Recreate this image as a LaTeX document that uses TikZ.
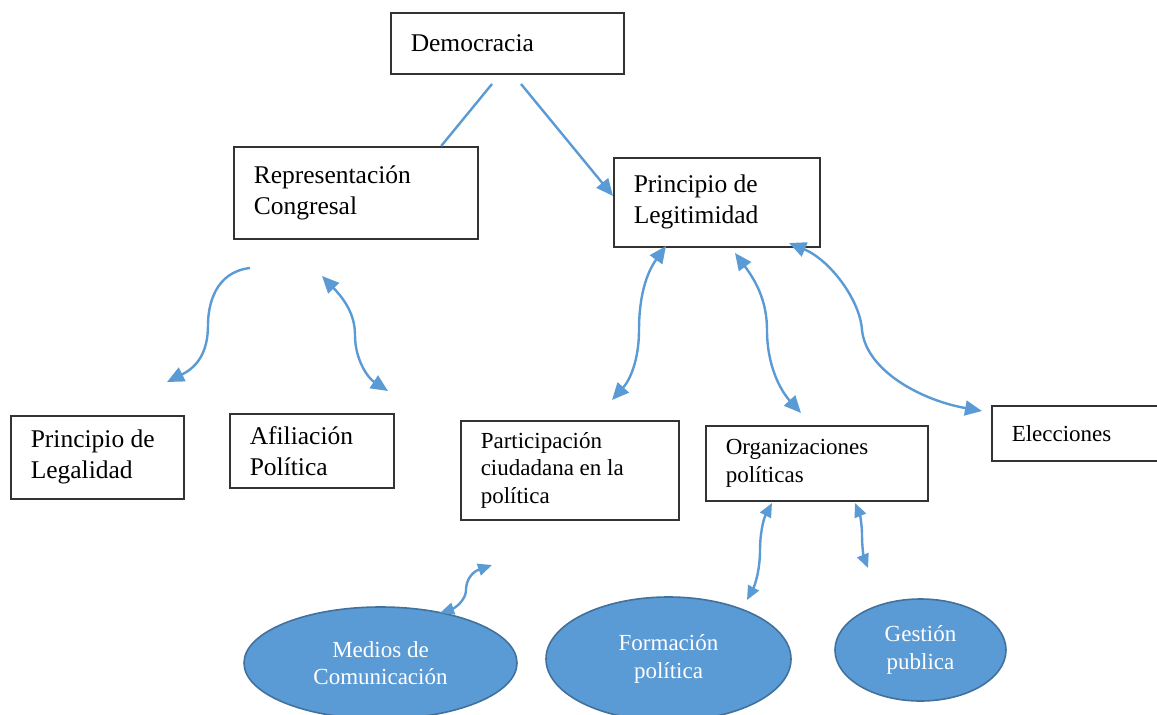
\documentclass[tikz,border=0pt]{standalone}
\usepackage{fontspec}
\setmainfont{Liberation Serif}
\usetikzlibrary{arrows.meta,shapes.geometric,calc}
\definecolor{lblue}{HTML}{5B9BD5}
\definecolor{eborder}{HTML}{41719C}
\newcommand{\bigf}{\fontsize{25.5}{31}\selectfont}
\newcommand{\smallf}{\fontsize{23}{27.5}\selectfont}
\begin{document}
\begin{tikzpicture}[x=1pt,y=-1pt,
  box/.style={draw=black!80, line width=1.5pt, anchor=north west, inner xsep=20pt, inner ysep=0pt, align=flush left},
  bigbox/.style={box, font=\bigf},
  smallbox/.style={box, font=\smallf},
  ell/.style={ellipse, draw=eborder, fill=lblue, line width=1.6pt, text=white, align=center, inner sep=0pt, font=\smallf},
  conn/.style={draw=lblue, line width=2.4pt},
  big/.style={conn, -{Triangle[length=17pt,width=15pt]}},
  bigboth/.style={conn, {Triangle[length=17pt,width=15pt]}-{Triangle[length=17pt,width=15pt]}},
  smallboth/.style={conn, {Triangle[length=14pt,width=12pt]}-{Triangle[length=14pt,width=12pt]}}
]
\useasboundingbox (0,0) rectangle (1157,715);
\fill[white] (0,0) rectangle (1157,715);

% boxes
\node[bigbox, minimum height=61pt, text width=193pt] (dem) at (390,12) {Democracia};
\node[bigbox, minimum height=92pt, text width=204pt] (rep) at (233,146) {Representación\\Congresal};
\node[bigbox, minimum height=89pt, text width=166pt] (leg) at (613,157) {Principio de\\Legitimidad};
\node[bigbox, minimum height=83pt, text width=133pt] (lgl) at (10,415) {Principio de\\Legalidad};
\node[bigbox, minimum height=74pt, text width=124pt] (afi) at (229,413) {Afiliación\\Política};
\node[smallbox, minimum height=99pt, text width=178pt] (par) at (460,420) {Participación\\ciudadana en la\\política};
\node[smallbox, minimum height=75pt, text width=182pt] (org) at (705,425) {Organizaciones\\políticas};
\node[smallbox, minimum height=55pt, text width=135pt] (ele) at (991,405) {Elecciones};

% ellipses
\node[ell, minimum width=273pt, minimum height=112pt] (med) at (380.5,663) {Medios de\\Comunicación};
\node[ell, minimum width=245pt, minimum height=124pt] (for) at (668.5,659) {Formación\\política};
\node[ell, minimum width=171pt, minimum height=102pt] (ges) at (920.5,650) {Gestión\\publica};

% free ends
\coordinate (d1) at (492,84);
\coordinate (d2) at (521,84);
\coordinate (legin) at (613,196);
\coordinate (r1) at (250,268);
\coordinate (lg1) at (167,382);
\coordinate (r2) at (322,276);
\coordinate (af1) at (388,391);
\coordinate (l1) at (666,246);
\coordinate (p1) at (612,400);
\coordinate (l2) at (735,253);
\coordinate (o1) at (801,413);
\coordinate (l3) at (789,243);
\coordinate (e1) at (982,411);
\coordinate (p2) at (492,565);
\coordinate (m1) at (440,613);
\coordinate (o2) at (772,503);
\coordinate (f1) at (747,600);
\coordinate (o3) at (855,503);
\coordinate (g1) at (868,568);

% connectors
\draw[conn] (d1) -- ($(rep.north west)!0.848!(rep.north east)$);
\draw[big] (d2) -- (legin);
\draw[big] (r1) .. controls (215,272) and (208,305) .. (208,325) .. controls (208,355) and (195,368) .. (lg1);
\draw[bigboth] (r2) .. controls (345,300) and (355,315) .. (355,335) .. controls (355,360) and (368,378) .. (af1);
\draw[bigboth] (l1) .. controls (645,275) and (639,300) .. (639,330) .. controls (639,360) and (630,380) .. (p1);
\draw[bigboth] (l2) .. controls (755,280) and (767,300) .. (767,330) .. controls (767,365) and (780,390) .. (o1);
\draw[bigboth] (l3) .. controls (830,260) and (860,300) .. (862,330) .. controls (866,370) and (920,400) .. (e1);
\draw[smallboth] (p2) .. controls (472,572) and (466,580) .. (466,590) .. controls (466,600) and (455,608) .. (m1);
\draw[smallboth] (o2) .. controls (763,520) and (760,535) .. (760,550) .. controls (760,570) and (755,585) .. (f1);
\draw[smallboth] (o3) .. controls (860,515) and (862,525) .. (862,535) .. controls (862,548) and (864,558) .. (g1);
\end{tikzpicture}
\end{document}
